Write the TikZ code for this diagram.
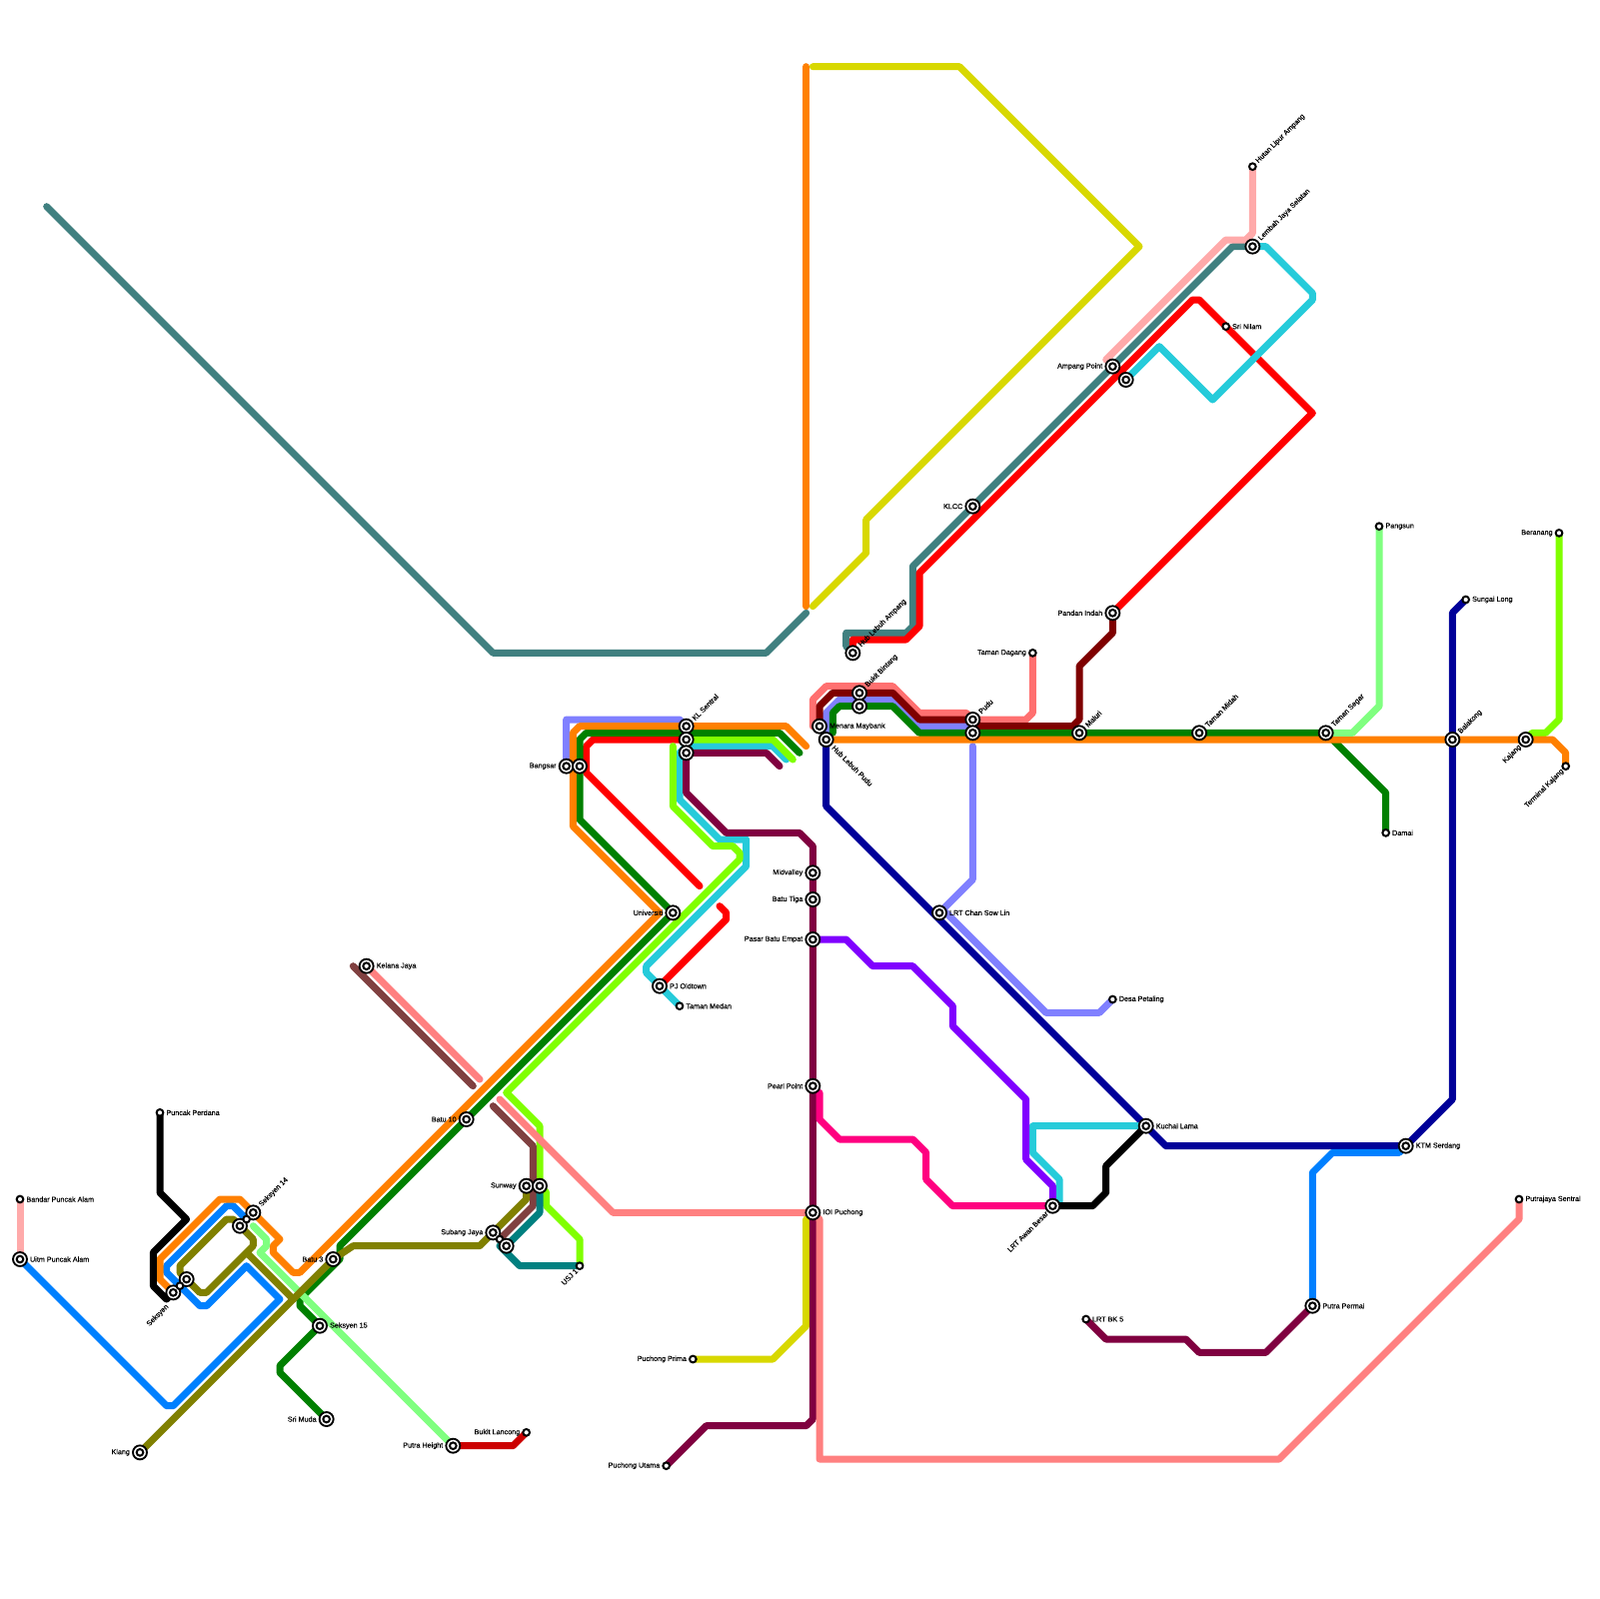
\documentclass[tikz,border=0pt]{standalone}
\usepackage{fontspec}
\setmainfont{Liberation Sans}
\newfontfamily\lblfont[FakeBold=0.25]{Liberation Sans}
\usetikzlibrary{positioning,backgrounds}
\definecolor{lnOrange}{HTML}{FF8000}
\definecolor{lnGreen}{HTML}{008000}
\definecolor{lnRed}{HTML}{FF0000}
\definecolor{lnDarkRed}{HTML}{CC0000}
\definecolor{lnMaroon}{HTML}{7F0000}
\definecolor{lnPlum}{HTML}{800040}
\definecolor{lnPeri}{HTML}{8080FF}
\definecolor{lnLime}{HTML}{80FF00}
\definecolor{lnCyan}{HTML}{26CBDA}
\definecolor{lnSlate}{HTML}{408080}
\definecolor{lnTeal}{HTML}{008080}
\definecolor{lnYellow}{HTML}{D8D800}
\definecolor{lnMint}{HTML}{80FF80}
\definecolor{lnBlue}{HTML}{0080FF}
\definecolor{lnNavy}{HTML}{000099}
\definecolor{lnSalmon}{HTML}{FF7070}
\definecolor{lnCoral}{HTML}{FF8080}
\definecolor{lnRosy}{HTML}{804040}
\definecolor{lnOlive}{HTML}{808000}
\definecolor{lnPurple}{HTML}{8000FF}
\definecolor{lnHot}{HTML}{FF0080}
\definecolor{lnPale}{HTML}{FFAAAA}
\begin{document}
\begin{tikzpicture}[
  x=1mm, y=-1mm,
  node distance=0.25mm,
  ln/.style={line width=1.05mm, line cap=round, line join=round},
  stn/.style={circle, draw=black, fill=white, line width=0.28mm, minimum size=2.1mm, inner sep=0pt,
    path picture={\draw[black, line width=0.3mm] (path picture bounding box.center) circle (0.5mm);}},
  halt/.style={circle, draw=black, fill=white, line width=0.3mm, minimum size=1mm, inner sep=0pt},
  lbl/.style={font=\lblfont\fontsize{3.07}{3.5}\selectfont, inner sep=0pt, text=black},
  lblne/.style={lbl, anchor=west, rotate=45},
  lblsw/.style={lbl, anchor=east, rotate=45, xshift=0.2mm, yshift=-0.1mm},
  lblse/.style={lbl, anchor=west, rotate=-45}
]
  \useasboundingbox (0,0) rectangle (240,240);

  % west
  \node[stn] (uitm) at (3,189) {};
  \node[halt] (bandar) at (3,180) {};
  \node[halt] (puncak) at (24,167) {};
  \node[stn] (klang) at (21,218) {};
  \node[stn] (seksyen) at (26,194) {};
  \node[stn] (seksyenb) at (28,192) {};
  \node[halt] (seksyenlink) at (27,193) {};
  \node[stn] (seksyenc) at (36,184) {};
  \node[stn] (seksyen14) at (38,182) {};
  \node[halt] (seksyen14link) at (37,183) {};
  \node[stn] (batu3) at (50,189) {};
  \node[stn] (seksyen15) at (48,199) {};
  \node[stn] (srimuda) at (49,213) {};
  \node[stn] (kelana) at (55,145) {};
  \node[stn] (batu10) at (70,168) {};
  \node[stn] (putraheight) at (68,217) {};
  \node[halt] (lancong) at (79,215) {};
  \node[stn] (subang) at (74,185) {};
  \node[halt] (subanglink) at (75,186) {};
  \node[stn] (subangb) at (76,187) {};
  \node[stn] (sunway) at (79,178) {};
  \node[stn] (sunwayb) at (81,178) {};
  \node[halt] (usj) at (87,190) {};

  % centre
  \node[stn] (bangsar) at (85,115) {};
  \node[stn] (bangsarb) at (87,115) {};
  \node[stn] (universiti) at (101,137) {};
  \node[stn] (klsentral) at (103,109) {};
  \node[stn] (klsentralb) at (103,111) {};
  \node[stn] (klsentralc) at (103,113) {};
  \node[stn] (pjold) at (99,148) {};
  \node[halt] (tamanmedan) at (102,151) {};
  \node[halt] (puchongprima) at (104,204) {};
  \node[halt] (puchongutama) at (100,220) {};
  \node[stn] (midvalley) at (122,131) {};
  \node[stn] (batutiga) at (122,135) {};
  \node[stn] (pasar) at (122,141) {};
  \node[stn] (pearl) at (122,163) {};
  \node[stn] (ioi) at (122,182) {};
  \node[stn] (maybank) at (123,109) {};
  \node[stn] (hubpudu) at (124,111) {};
  \node[stn] (hubampang) at (128,98) {};
  \node[stn] (bintang) at (129,104) {};
  \node[stn] (bintangb) at (129,106) {};
  \node[stn] (chansowlin) at (141,137) {};
  \node[stn] (pudu) at (146,108) {};
  \node[stn] (pudub) at (146,110) {};
  \node[stn] (klcc) at (146,76) {};
  \node[halt] (dagang) at (155,98) {};
  \node[stn] (awanbesar) at (158,181) {};
  \node[stn] (maluri) at (162,110) {};

  % east
  \node[halt] (bk5) at (163,198) {};
  \node[halt] (desa) at (167,150) {};
  \node[stn] (pandan) at (167,92) {};
  \node[stn] (ampang) at (167,55) {};
  \node[stn] (ampangb) at (169,57) {};
  \node[stn] (kuchai) at (172,169) {};
  \node[stn] (midah) at (180,110) {};
  \node[halt] (nilam) at (184,49) {};
  \node[stn] (lembah) at (188,37) {};
  \node[halt] (hutan) at (188,25) {};
  \node[stn] (permai) at (197,196) {};
  \node[stn] (segar) at (199,110) {};
  \node[halt] (pangsun) at (207,79) {};
  \node[halt] (damai) at (208,125) {};
  \node[stn] (serdang) at (211,172) {};
  \node[stn] (balakong) at (218,111) {};
  \node[halt] (sungailong) at (220,90) {};
  \node[halt] (putrajaya) at (228,180) {};
  \node[stn] (kajang) at (229,111) {};
  \node[halt] (beranang) at (234,80) {};
  \node[halt] (terminal) at (235,115) {};

  \begin{scope}[on background layer]
    \draw[ln, lnSlate] (7,31) -- (74,98) -- (115,98) -- (121,92);
    \draw[ln, lnSlate] (hubampang.center) -- (127,97) -- (127,95) -- (136,95) -- (137,94) -- (137,85) -- (klcc.center) -- (ampang.center) -- (185,37) -- (lembah.center);
    \draw[ln, lnPale] (bandar.center) -- (uitm.center);
    \draw[ln, lnPale] (hutan.center) -- (188,35) -- (187,36) -- (184,36) -- (166,54);

    \draw[ln, lnPeri] (bangsar.center) -- (85,108) -- (102,108) -- (klsentral.center);
    \draw[ln, lnPeri] (146,112) -- (146,132) -- (chansowlin.center) -- (142,137) -- (157,152) -- (165,152) -- (desa.center);
    \draw[ln, lnPeri] (hubpudu.center) -- (124,107) -- (126,105) -- (134,105) -- (138,109) -- (146,109);

    \draw[ln, lnSalmon] (122,109) -- (122,105) -- (124,103) -- (134,103) -- (138,107) -- (145,107) -- (pudu.center) -- (154,108) -- (155,107) -- (dagang.center);
    \draw[ln, lnMaroon] (maybank.center) -- (123,106) -- (125,104) -- (bintang.center) -- (134,104) -- (138,108) -- (pudu.center) -- (147,109) -- (161,109) -- (162,108) -- (162,100) -- (167,95) -- (pandan.center);

    \draw[ln, lnNavy] (sungailong.center) -- (218,92) -- (balakong.center) -- (218,165) -- (serdang.center) -- (175,172) -- (kuchai.center) -- (124,121) -- (hubpudu.center);
    \draw[ln, lnBlue] (permai.center) -- (197,176) -- (200,173) -- (210,173) -- (serdang.center);
    \draw[ln, lnBlue] (uitm.center) -- (25,211) -- (26,211) -- (42,195) -- (37,190) -- (31,196) -- (30,196) -- (25,191) -- (25,190) -- (34,181) -- (35,181) -- (seksyen14link.center);

    \draw[ln, lnRed] (klsentralb.center) -- (89,111) -- (88,112) -- (88,116) -- (105,133);
    \draw[ln, lnRed] (108,136) -- (109,137) -- (109,138) -- (pjold.center);
    \draw[ln, lnRed] (hubampang.center) -- (128,96) -- (136,96) -- (138,94) -- (138,86) -- (179,45) -- (180,45) -- (197,62) -- (pandan.center);
    \draw[ln, lnDarkRed] (putraheight.center) -- (77,217) -- (lancong.center);

    \draw[ln, lnYellow] (122,91) -- (130,83) -- (130,78) -- (171,37) -- (144,10) -- (122,10);
    \draw[ln, lnYellow] (puchongprima.center) -- (116,204) -- (121,199) -- (121,183);
    \draw[ln, lnOrange] (121,10) -- (121,91);

    \draw[ln, lnCyan] (118,114) -- (116,112) -- (103,112) -- (102,113) -- (102,120) -- (108,126) -- (112,126) -- (112,130) -- (97,145) -- (97,146) -- (tamanmedan.center);
    \draw[ln, lnCyan] (lembah.center) -- (190,37) -- (197,44) -- (197,45) -- (182,60) -- (174,52) -- (ampangb.center);
    \draw[ln, lnCyan] (kuchai.center) -- (155,169) -- (155,173) -- (159,177) -- (159,181) -- (awanbesar.center);

    \draw[ln, lnLime] (beranang.center) -- (234,108) -- (232,110) -- (230,110) -- (kajang.center);
    \draw[ln, lnLime] (119,114) -- (116,111) -- (klsentralb.center);
    \draw[ln, lnLime] (101,112) -- (101,121) -- (107,127) -- (110,127) -- (111,128) -- (111,129) -- (76,164) -- (81,169) -- (sunwayb.center) -- (82,179) -- (82,181) -- (87,186) -- (usj.center);

    \draw[ln, lnPlum] (117,115) -- (115,113) -- (klsentralc.center) -- (103,119) -- (109,125) -- (120,125) -- (122,127) -- (midvalley.center) -- (batutiga.center) -- (pasar.center) -- (pearl.center) -- (ioi.center) -- (122,213) -- (121,214) -- (106,214) -- (puchongutama.center);
    \draw[ln, lnPlum] (bk5.center) -- (166,201) -- (178,201) -- (180,203) -- (190,203) -- (permai.center);

    \draw[ln, lnRosy] (53,145) -- (71,163);
    \draw[ln, lnRosy] (74,166) -- (80,172) -- (80,181) -- (75,186);
    \draw[ln, lnTeal] (sunwayb.center) -- (81,182) -- (subangb.center) -- (75,187) -- (78,190) -- (usj.center);

    \draw[ln, lnGreen] (damai.center) -- (208,119) -- (segar.center) -- (maluri.center) -- (pudub.center) -- (138,110) -- (134,106) -- (bintangb.center) -- (126,106) -- (125,107) -- (125,110);
    \draw[ln, lnGreen] (120,113) -- (117,110) -- (88,110) -- (87,111) -- (87,123) -- (universiti.center) -- (batu10.center) -- (51,187) -- (51,189) -- (45,195) -- (45,196) -- (seksyen15.center) -- (42,205) -- (42,206) -- (srimuda.center);
    \draw[ln, lnOrange] (terminal.center) -- (235,113) -- (233,111) -- (kajang.center) -- (balakong.center) -- (hubpudu.center);
    \draw[ln, lnOrange] (121,112) -- (118,109) -- (87,109) -- (86,110) -- (86,124) -- (99,137) -- (45,191) -- (44,191) -- (41,188) -- (41,187) -- (42,186) -- (36,180) -- (33,180) -- (24,189) -- (24,192) -- (seksyen.center);
    \draw[ln, black] (puncak.center) -- (24,179) -- (28,183) -- (23,188) -- (23,193) -- (25,195) -- (seksyen.center);
    \draw[ln, black] (awanbesar.center) -- (164,181) -- (166,179) -- (166,175) -- (kuchai.center);

    \draw[ln, lnMint] (pangsun.center) -- (207,106) -- (203,110) -- (segar.center);
    \draw[ln, lnMint] (putraheight.center) -- (39,188) -- (40,187) -- (40,186) -- (38,184);
    \draw[ln, lnOlive] (klang.center) -- (batu3.center) -- (53,187) -- (72,187) -- (79,180) -- (sunway.center);
    \draw[ln, lnOlive] (44,195) -- (37,188) -- (38,187) -- (38,186) -- (35,183) -- (34,183) -- (27,190) -- (27,191) -- (30,194) -- (31,194) -- (38,187);
    \draw[ln, lnPurple] (pasar.center) -- (127,141) -- (131,145) -- (137,145) -- (143,151) -- (143,154) -- (154,165) -- (154,174) -- (158,178) -- (awanbesar.center);
    \draw[ln, lnHot] (123,164) -- (123,168) -- (126,171) -- (137,171) -- (139,173) -- (139,177) -- (143,181) -- (awanbesar.center);
    \draw[ln, lnCoral] (kelana.center) -- (72,162);
    \draw[ln, lnCoral] (75,165) -- (92,182) -- (ioi.center) -- (123,183) -- (123,219) -- (192,219) -- (228,183) -- (putrajaya.center);
  \end{scope}

  \node[lbl, right=of uitm] {Uitm Puncak Alam};
  \node[lbl, right=of bandar] {Bandar Puncak Alam};
  \node[lbl, right=of puncak] {Puncak Perdana};
  \node[lbl, left=of klang] {Klang};
  \node[below left=of seksyen, lblsw, xshift=-0.7mm, yshift=-0.7mm] {Seksyen};
  \node[above right=of seksyen14, lblne] {Seksyen 14};
  \node[lbl, left=of batu3] {Batu 3};
  \node[lbl, right=of seksyen15] {Seksyen 15};
  \node[lbl, left=of srimuda] {Sri Muda};
  \node[lbl, right=of kelana] {Kelana Jaya};
  \node[lbl, left=of batu10] {Batu 10};
  \node[lbl, left=of putraheight] {Putra Height};
  \node[lbl, left=of lancong] {Bukit Lancong};
  \node[lbl, left=of subang] {Subang Jaya};
  \node[lbl, left=of sunway] {Sunway};
  \node[below left=of usj, lblsw] {USJ 1};
  \node[lbl, left=of bangsar] {Bangsar};
  \node[lbl, left=of universiti] {Universiti};
  \node[above right=of klsentral, lblne] {KL Sentral};
  \node[lbl, right=of pjold] {PJ Oldtown};
  \node[lbl, right=of tamanmedan] {Taman Medan};
  \node[lbl, left=of puchongprima] {Puchong Prima};
  \node[lbl, left=of puchongutama] {Puchong Utama};
  \node[lbl, left=of midvalley] {Midvalley};
  \node[lbl, left=of batutiga] {Batu Tiga};
  \node[lbl, left=of pasar] {Pasar Batu Empat};
  \node[lbl, left=of pearl] {Pearl Point};
  \node[lbl, right=of ioi] {IOI Puchong};
  \node[lbl, right=of maybank] {Menara Maybank};
  \node[below right=of hubpudu, lblse] {Hub Lebuh Pudu};
  \node[above right=of hubampang, lblne] {Hub Lebuh Ampang};
  \node[above right=of bintang, lblne] {Bukit Bintang};
  \node[lbl, right=of chansowlin] {LRT Chan Sow Lin};
  \node[above right=of pudu, lblne] {Pudu};
  \node[lbl, left=of klcc] {KLCC};
  \node[lbl, left=of dagang] {Taman Dagang};
  \node[below left=of awanbesar, lblsw] {LRT Awan Besar};
  \node[above right=of maluri, lblne] {Maluri};
  \node[lbl, right=of bk5] {LRT BK 5};
  \node[lbl, right=of desa] {Desa Petaling};
  \node[lbl, left=of pandan] {Pandan Indah};
  \node[lbl, left=of ampang] {Ampang Point};
  \node[lbl, right=of kuchai] {Kuchai Lama};
  \node[above right=of midah, lblne] {Taman Midah};
  \node[lbl, right=of nilam] {Sri Nilam};
  \node[above right=of lembah, lblne] {Lembah Jaya Selatan};
  \node[above right=of hutan, lblne] {Hutan Lipur Ampang};
  \node[lbl, right=of permai] {Putra Permai};
  \node[above right=of segar, lblne] {Taman Segar};
  \node[lbl, right=of pangsun] {Pangsun};
  \node[lbl, right=of damai] {Damai};
  \node[lbl, right=of serdang] {KTM Serdang};
  \node[above right=of balakong, lblne] {Balakong};
  \node[lbl, right=of sungailong] {Sungai Long};
  \node[lbl, right=of putrajaya] {Putrajaya Sentral};
  \node[below left=of kajang, lblsw] {Kajang};
  \node[lbl, left=of beranang] {Beranang};
  \node[below left=of terminal, lblsw] {Terminal Kajang};
\end{tikzpicture}
\end{document}
